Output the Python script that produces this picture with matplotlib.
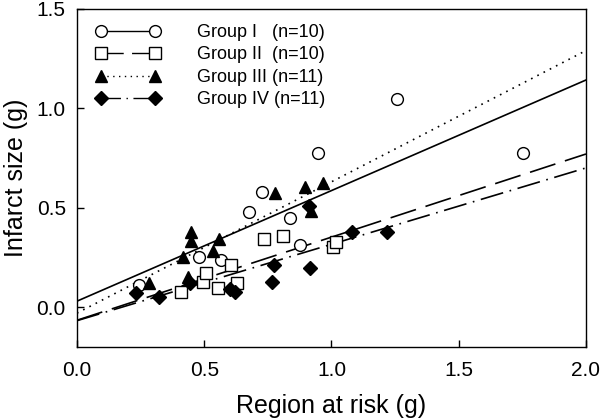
"""
Infarct size vs. region at risk, four groups with linear fits.
"""

import matplotlib
matplotlib.use("Agg")
import matplotlib.pyplot as plt
import numpy as np

plt.rcParams.update({
    "font.family": ["Liberation Sans", "DejaVu Sans"],
    "font.size": 13,
    "axes.linewidth": 1.0,
})

# ---- data ----
g1_x = [0.245, 0.48, 0.565, 0.676, 0.726, 0.837, 0.876, 0.946, 1.259, 1.751]
g1_y = [0.11, 0.25, 0.237, 0.48, 0.578, 0.45, 0.31, 0.777, 1.047, 0.777]

g2_x = [0.407, 0.496, 0.507, 0.555, 0.607, 0.627, 0.736, 0.808, 1.007, 1.018]
g2_y = [0.078, 0.128, 0.17, 0.097, 0.212, 0.122, 0.341, 0.358, 0.301, 0.33]

g3_x = [0.283, 0.418, 0.437, 0.447, 0.447, 0.536, 0.558, 0.777, 0.897, 0.919, 0.968]
g3_y = [0.123, 0.251, 0.153, 0.38, 0.335, 0.284, 0.343, 0.573, 0.603, 0.484, 0.623]

g4_x = [0.234, 0.323, 0.444, 0.601, 0.621, 0.767, 0.775, 0.911, 0.916, 1.079, 1.219]
g4_y = [0.07, 0.053, 0.12, 0.09, 0.078, 0.128, 0.21, 0.509, 0.199, 0.38, 0.38]

labels = ["Group I   (n=10)", "Group II  (n=10)", "Group III (n=11)", "Group IV (n=11)"]

# regression lines (intercept, slope)
fit_intercept = [0.03, -0.066, -0.03, -0.068]
fit_slope = [0.556, 0.418, 0.66, 0.384]

xs = [g1_x, g2_x, g3_x, g4_x]
ys = [g1_y, g2_y, g3_y, g4_y]

markers = [
    dict(marker="o", mfc="white", mec="black", ms=8.5, mew=1.0),
    dict(marker="s", mfc="white", mec="black", ms=8, mew=1.0),
    dict(marker="^", mfc="black", mec="black", ms=8.5),
    dict(marker="D", mfc="black", mec="black", ms=7.5),
]
dash_styles = [None, (16, 6), (1, 3.2), (14, 4, 1, 4)]

fig = plt.figure(figsize=(6.01, 4.19), dpi=100)
ax = fig.add_axes([0.128, 0.172, 0.847, 0.807])

line_x = np.array([0.0, 2.0])
handles = []
for i in range(4):
    ax.plot(xs[i], ys[i], linestyle="none", zorder=3, **markers[i])
    (ln,) = ax.plot(line_x, fit_intercept[i] + fit_slope[i] * line_x,
                    color="black", lw=1.2, zorder=2)
    if dash_styles[i] is not None:
        ln.set_dashes(dash_styles[i])
    # legend handle: line with markers on both ends
    (h,) = ax.plot([], [], color="black", lw=1.0, **markers[i])
    if dash_styles[i] is not None:
        h.set_dashes(dash_styles[i])
    handles.append(h)

ax.legend(handles, labels, loc="upper left", bbox_to_anchor=(0.037, 0.955),
          frameon=False, fontsize=13, numpoints=2, handlelength=3.6,
          handletextpad=2.0, labelspacing=0.3, borderpad=0, borderaxespad=0)

ax.set_xlim(0, 2.0)
ax.set_ylim(-0.2, 1.5)
ax.set_xticks([0.0, 0.5, 1.0, 1.5, 2.0])
ax.set_yticks([0.0, 0.5, 1.0, 1.5])
ax.set_xticklabels(["0.0", "0.5", "1.0", "1.5", "2.0"])
ax.set_yticklabels(["0.0", "0.5", "1.0", "1.5"])
ax.tick_params(direction="in", length=5, width=1.0, labelsize=15)
ax.tick_params(axis="x", pad=10)
ax.tick_params(axis="y", pad=8)
ax.set_xlabel("Region at risk (g)", fontsize=18, labelpad=10)
ax.set_ylabel("Infarct size (g)", fontsize=18, labelpad=6)

fig.savefig("out.png", dpi=100)
